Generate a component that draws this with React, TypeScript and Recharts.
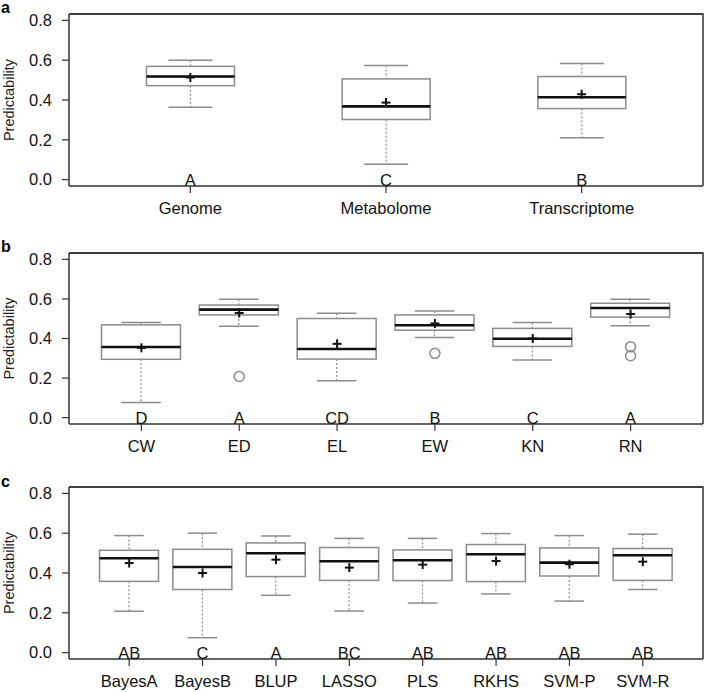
import React from 'react';
import { ComposedChart, Bar, Scatter, XAxis, YAxis, ReferenceLine } from 'recharts';

// panel a: omics data type
const omicsNames = ['Genome', 'Metabolome', 'Transcriptome'];
const omicsMin = [0.363, 0.077, 0.21];
const omicsQ1 = [0.472, 0.302, 0.357];
const omicsMedian = [0.518, 0.368, 0.414];
const omicsQ3 = [0.569, 0.506, 0.518];
const omicsMax = [0.6, 0.573, 0.583];
const omicsMean = [0.513, 0.387, 0.429];
const omicsLetters = ['A', 'C', 'B'];

// panel b: traits
const traitNames = ['CW', 'ED', 'EL', 'EW', 'KN', 'RN'];
const traitMin = [0.077, 0.462, 0.186, 0.405, 0.291, 0.464];
const traitQ1 = [0.295, 0.519, 0.296, 0.442, 0.36, 0.508];
const traitMedian = [0.357, 0.546, 0.347, 0.467, 0.399, 0.554];
const traitQ3 = [0.469, 0.569, 0.501, 0.519, 0.451, 0.578];
const traitMax = [0.481, 0.598, 0.528, 0.539, 0.481, 0.598];
const traitMean = [0.353, 0.529, 0.373, 0.476, 0.4, 0.524];
const traitLetters = ['D', 'A', 'CD', 'B', 'C', 'A'];
const traitOutlierNames = ['ED', 'EW', 'RN', 'RN'];
const traitOutlierValues = [0.208, 0.325, 0.358, 0.313];

// panel c: prediction methods
const methodNames = ['BayesA', 'BayesB', 'BLUP', 'LASSO', 'PLS', 'RKHS', 'SVM-P', 'SVM-R'];
const methodMin = [0.208, 0.075, 0.288, 0.209, 0.249, 0.295, 0.259, 0.317];
const methodQ1 = [0.358, 0.317, 0.382, 0.363, 0.362, 0.357, 0.385, 0.363];
const methodMedian = [0.474, 0.43, 0.499, 0.459, 0.464, 0.494, 0.452, 0.489];
const methodQ3 = [0.514, 0.519, 0.551, 0.528, 0.516, 0.543, 0.526, 0.523];
const methodMax = [0.588, 0.6, 0.586, 0.574, 0.574, 0.598, 0.588, 0.595];
const methodMean = [0.45, 0.4, 0.467, 0.427, 0.442, 0.46, 0.444, 0.457];
const methodLetters = ['AB', 'C', 'A', 'BC', 'AB', 'AB', 'AB', 'AB'];

const yTicks = [0, 0.2, 0.4, 0.6, 0.8];
const yDomain = [-0.032, 0.832];

const FONT = '"Liberation Sans", Arial, sans-serif';
const FRAME = '#333';
const BOX = '#8c8c8c';
const TXT = 16.5;
const W = 706;
const LEFT = 69;
const RIGHT = 3;

interface PanelProps {
  tag: string;
  tagTop: number;
  names: string[];
  min: number[];
  q1: number[];
  median: number[];
  q3: number[];
  max: number[];
  mean: number[];
  letters: string[];
  outlierNames?: string[];
  outlierValues?: number[];
  height: number;
  top: number;
  axisHeight: number;
  boxWidth: number;
}

/* eslint-disable @typescript-eslint/no-explicit-any */
const Empty = () => <g />;

const LowWhisker = (props: any) => {
  const { x, y, width, height } = props;
  const cx = x + width / 2;
  const cap = width / 4;
  return (
    <g>
      <line x1={cx} x2={cx} y1={y} y2={y + height} stroke={BOX} strokeWidth={1.2} strokeDasharray="2 2" />
      <line x1={cx - cap} x2={cx + cap} y1={y + height} y2={y + height} stroke={BOX} strokeWidth={1.5} />
    </g>
  );
};

const HighWhisker = (props: any) => {
  const { x, y, width, height } = props;
  const cx = x + width / 2;
  const cap = width / 4;
  return (
    <g>
      <line x1={cx} x2={cx} y1={y} y2={y + height} stroke={BOX} strokeWidth={1.2} strokeDasharray="2 2" />
      <line x1={cx - cap} x2={cx + cap} y1={y} y2={y} stroke={BOX} strokeWidth={1.5} />
    </g>
  );
};

const LowBox = (props: any) => {
  const { x, y, width, height } = props;
  return <rect x={x} y={y} width={width} height={height} fill="none" stroke={BOX} strokeWidth={1.5} />;
};

const HighBox = (props: any) => {
  const { x, y, width, height } = props;
  return (
    <g>
      <rect x={x} y={y} width={width} height={height} fill="none" stroke={BOX} strokeWidth={1.5} />
      <line x1={x} x2={x + width} y1={y + height} y2={y + height} stroke="#111" strokeWidth={2.6} />
    </g>
  );
};

const Plus = (props: any) => {
  const { cx, cy } = props;
  return (
    <g stroke="#111" strokeWidth={2}>
      <line x1={cx - 4.5} x2={cx + 4.5} y1={cy} y2={cy} />
      <line x1={cx} x2={cx} y1={cy - 4.5} y2={cy + 4.5} />
    </g>
  );
};

const Outlier = (props: any) => {
  const { cx, cy } = props;
  return <circle cx={cx} cy={cy} r={5} fill="none" stroke={BOX} strokeWidth={1.5} />;
};

const Letter = (props: any) => {
  const { cx, cy, payload } = props;
  return (
    <text x={cx} y={cy} textAnchor="middle" dominantBaseline="central" fontSize={TXT} fill="#111" fontFamily={FONT}>
      {payload.letter}
    </text>
  );
};

// y axis title, plus the right side of the plot frame (R's box())
const YLabel = (props: any) => {
  const { viewBox } = props;
  const cx = viewBox.x + 9;
  const cy = viewBox.y + viewBox.height / 2;
  const right = W - RIGHT;
  return (
    <g>
      <text x={cx} y={cy} transform={`rotate(-90 ${cx} ${cy})`} textAnchor="middle" dominantBaseline="central" fontSize={14.5} fill="#222" fontFamily={FONT}>
        Predictability
      </text>
      <polyline
        points={`${viewBox.x + viewBox.width},${viewBox.y} ${right},${viewBox.y} ${right},${viewBox.y + viewBox.height}`}
        fill="none"
        stroke={FRAME}
        strokeWidth={1.5}
      />
    </g>
  );
};

const BoxPanel: React.FC<PanelProps> = (p) => {
  const rows = p.names.map((name, i) => ({
    name,
    base: p.min[i],
    lowW: p.q1[i] - p.min[i],
    lowBox: p.median[i] - p.q1[i],
    highBox: p.q3[i] - p.median[i],
    highW: p.max[i] - p.q3[i],
    mean: p.mean[i],
    lbl: 0,
    letter: p.letters[i],
  }));
  const outliers = (p.outlierNames || []).map((name, i) => ({ name, v: (p.outlierValues || [])[i] }));

  return (
    <div style={{ position: 'relative', width: W, height: p.height }}>
      <div style={{ position: 'absolute', left: 1, top: p.tagTop, fontSize: 16, fontWeight: 'bold', fontFamily: FONT, lineHeight: '16px' }}>
        {p.tag}
      </div>
      <ComposedChart width={W} height={p.height} data={rows} margin={{ top: p.top, right: RIGHT, bottom: 0, left: 0 }} barGap={0}>
        <XAxis
          dataKey="name"
          allowDuplicatedCategory={false}
          height={p.axisHeight}
          padding={{ left: 23.5, right: 23.5 }}
          axisLine={{ stroke: FRAME, strokeWidth: 1.5 }}
          tickLine={{ stroke: FRAME, strokeWidth: 1.2 }}
          tickSize={7}
          tickMargin={9}
          interval={0}
          tick={{ fill: '#111', fontSize: TXT, fontFamily: FONT }}
        />
        <YAxis
          type="number"
          domain={yDomain}
          ticks={yTicks}
          allowDataOverflow
          width={LEFT}
          axisLine={{ stroke: FRAME, strokeWidth: 1.5 }}
          tickLine={{ stroke: FRAME, strokeWidth: 1.2 }}
          tickSize={7}
          tickMargin={10}
          tickFormatter={(v: number) => v.toFixed(1)}
          tick={{ fill: '#111', fontSize: TXT, fontFamily: FONT }}
          label={<YLabel />}
        />
        {/* top side of the frame */}
        <ReferenceLine y={yDomain[1]} stroke={FRAME} strokeWidth={1.5} />
        <Bar dataKey="base" stackId="box" barSize={p.boxWidth} shape={<Empty />} isAnimationActive={false} />
        <Bar dataKey="lowW" stackId="box" barSize={p.boxWidth} shape={LowWhisker} isAnimationActive={false} />
        <Bar dataKey="lowBox" stackId="box" barSize={p.boxWidth} shape={LowBox} isAnimationActive={false} />
        <Bar dataKey="highBox" stackId="box" barSize={p.boxWidth} shape={HighBox} isAnimationActive={false} />
        <Bar dataKey="highW" stackId="box" barSize={p.boxWidth} shape={HighWhisker} isAnimationActive={false} />
        <Scatter dataKey="mean" shape={Plus} isAnimationActive={false} />
        <Scatter dataKey="lbl" shape={Letter} isAnimationActive={false} />
        {outliers.length > 0 && <Scatter data={outliers} dataKey="v" shape={Outlier} isAnimationActive={false} />}
      </ComposedChart>
    </div>
  );
};

export default function App() {
  return (
    <div style={{ position: 'absolute', left: 0, top: 0, width: W, height: 692, background: '#fff', fontFamily: FONT }}>
      <BoxPanel
        tag="a"
        tagTop={0}
        names={omicsNames}
        min={omicsMin}
        q1={omicsQ1}
        median={omicsMedian}
        q3={omicsQ3}
        max={omicsMax}
        mean={omicsMean}
        letters={omicsLetters}
        height={220}
        top={14}
        axisHeight={34}
        boxWidth={88}
      />
      <BoxPanel
        tag="b"
        tagTop={19}
        names={traitNames}
        min={traitMin}
        q1={traitQ1}
        median={traitMedian}
        q3={traitQ3}
        max={traitMax}
        mean={traitMean}
        letters={traitLetters}
        outlierNames={traitOutlierNames}
        outlierValues={traitOutlierValues}
        height={235}
        top={33}
        axisHeight={31}
        boxWidth={79}
      />
      <BoxPanel
        tag="c"
        tagTop={19}
        names={methodNames}
        min={methodMin}
        q1={methodQ1}
        median={methodMedian}
        q3={methodQ3}
        max={methodMax}
        mean={methodMean}
        letters={methodLetters}
        height={237}
        top={32}
        axisHeight={33}
        boxWidth={59}
      />
    </div>
  );
}
